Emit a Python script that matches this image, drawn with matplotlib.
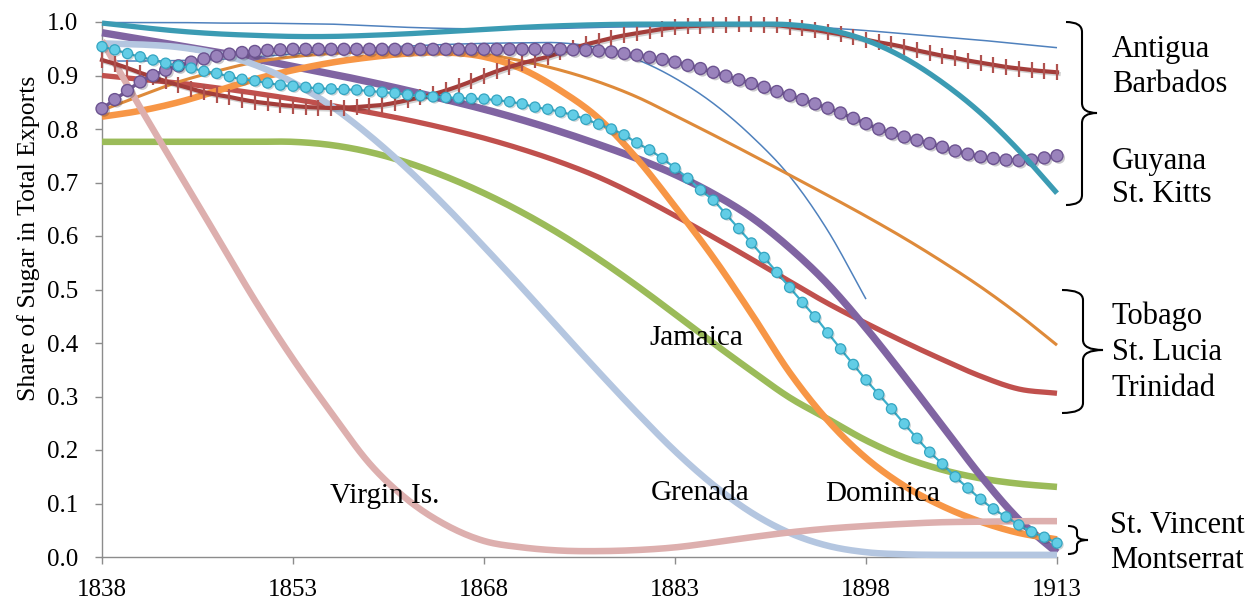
import matplotlib
matplotlib.use('Agg')
import matplotlib.pyplot as plt
import matplotlib.patheffects as pe
from matplotlib.path import Path
from matplotlib.patches import PathPatch
from matplotlib.transforms import Affine2D
import numpy as np

plt.rcParams['font.family'] = 'Liberation Serif'

W, H = 1251, 603

# yearly series (drawn with markers)
years = list(range(1838, 1914))
purple_dots = [0.838, 0.855, 0.872, 0.888, 0.900, 0.910, 0.918, 0.925, 0.931, 0.936,
               0.940, 0.943, 0.945, 0.947, 0.948, 0.949,
               0.949, 0.949, 0.949, 0.949, 0.949, 0.949, 0.949, 0.949, 0.949, 0.949,
               0.949, 0.949, 0.949, 0.949, 0.949, 0.949, 0.949, 0.949, 0.949, 0.949, 0.949,
               0.948, 0.947, 0.946, 0.944, 0.941, 0.938, 0.934, 0.930, 0.925, 0.919,
               0.913, 0.906, 0.899, 0.892, 0.885, 0.878, 0.870, 0.863, 0.855, 0.847,
               0.839, 0.830, 0.820, 0.810, 0.800, 0.792, 0.785, 0.779, 0.773, 0.766,
               0.759, 0.753, 0.748, 0.745, 0.742, 0.741, 0.742, 0.746, 0.750]
cyan_dots = [0.954, 0.948, 0.941, 0.935, 0.929, 0.923, 0.918, 0.914, 0.908, 0.904,
             0.898, 0.893, 0.890, 0.886, 0.882, 0.880, 0.878, 0.876, 0.875, 0.874,
             0.873, 0.871, 0.869, 0.867, 0.864, 0.862, 0.860, 0.859, 0.858, 0.857,
             0.856, 0.854, 0.851, 0.847, 0.841, 0.837, 0.832, 0.826, 0.818, 0.809,
             0.800, 0.789, 0.774, 0.761, 0.745, 0.727, 0.708, 0.686, 0.667, 0.641,
             0.614, 0.587, 0.560, 0.532, 0.504, 0.476, 0.449, 0.419, 0.389, 0.360,
             0.331, 0.304, 0.277, 0.249, 0.222, 0.196, 0.174, 0.150, 0.129, 0.108,
             0.090, 0.075, 0.060, 0.047, 0.037, 0.026]
red_ticks = [0.929, 0.922, 0.914, 0.905, 0.897, 0.889, 0.882, 0.875, 0.869, 0.864,
             0.860, 0.855, 0.851, 0.848, 0.845, 0.843, 0.841, 0.840, 0.839, 0.840,
             0.841, 0.843, 0.845, 0.849, 0.854, 0.859, 0.865, 0.872, 0.880, 0.889,
             0.899, 0.908, 0.916, 0.923, 0.929, 0.935, 0.943, 0.951, 0.958, 0.964,
             0.970, 0.975, 0.979, 0.983, 0.987, 0.990, 0.992, 0.993, 0.994, 0.995,
             0.996, 0.996, 0.995, 0.994, 0.991, 0.988, 0.985, 0.981, 0.977, 0.972,
             0.967, 0.962, 0.958, 0.953, 0.947, 0.942, 0.937, 0.933, 0.928, 0.924,
             0.920, 0.916, 0.913, 0.910, 0.908, 0.906]

# smoothed trend lines, read every three years
years3 = list(range(1838, 1914, 3))
blue_top = [0.999, 0.999, 0.999, 0.998, 0.998, 0.997, 0.996, 0.993, 0.990, 0.988,
            0.987, 0.987, 0.988, 0.990, 0.991, 0.992, 0.993, 0.993, 0.993, 0.989,
            0.984, 0.978, 0.972, 0.966, 0.959, 0.952]
blue_short = [0.927, 0.927, 0.928, 0.930, 0.935, 0.940, 0.946, 0.951, 0.955, 0.958,
              0.960, 0.961, 0.961, 0.952, 0.930, 0.895, 0.848, 0.787, 0.712, 0.610,
              0.482, None, None, None, None, None]
teal = [0.998, 0.990, 0.983, 0.978, 0.975, 0.973, 0.973, 0.975, 0.978, 0.982,
        0.986, 0.990, 0.993, 0.995, 0.996, 0.996, 0.996, 0.996, 0.995, 0.986,
        0.966, 0.933, 0.887, 0.830, 0.760, 0.680]
orange_thin = [0.835, 0.862, 0.888, 0.908, 0.925, 0.935, 0.941, 0.945, 0.947, 0.946,
               0.940, 0.927, 0.910, 0.888, 0.860, 0.825, 0.789, 0.752, 0.714, 0.676,
               0.637, 0.596, 0.552, 0.505, 0.453, 0.396]
orange = [0.823, 0.834, 0.850, 0.871, 0.893, 0.910, 0.924, 0.934, 0.941, 0.943,
          0.935, 0.912, 0.872, 0.820, 0.745, 0.655, 0.560, 0.455, 0.345, 0.255,
          0.185, 0.133, 0.095, 0.066, 0.045, 0.033]
red = [0.900, 0.893, 0.886, 0.877, 0.867, 0.856, 0.844, 0.831, 0.817, 0.801,
       0.783, 0.762, 0.738, 0.710, 0.676, 0.638, 0.598, 0.557, 0.515, 0.474,
       0.437, 0.402, 0.369, 0.338, 0.314, 0.306]
purple = [0.980, 0.968, 0.956, 0.944, 0.931, 0.917, 0.903, 0.888, 0.872, 0.855,
          0.837, 0.817, 0.795, 0.771, 0.745, 0.715, 0.679, 0.635, 0.578, 0.510,
          0.428, 0.338, 0.245, 0.152, 0.070, 0.008]
green = [0.776, 0.776, 0.776, 0.776, 0.776, 0.776, 0.770, 0.757, 0.737, 0.711,
         0.680, 0.644, 0.603, 0.557, 0.507, 0.454, 0.400, 0.348, 0.298, 0.258,
         0.218, 0.186, 0.163, 0.147, 0.137, 0.131]
light_blue = [0.960, 0.958, 0.953, 0.941, 0.920, 0.887, 0.843, 0.788, 0.725, 0.655,
              0.580, 0.503, 0.424, 0.346, 0.270, 0.198, 0.135, 0.083, 0.045, 0.021,
              0.009, 0.005, 0.004, 0.004, 0.004, 0.004]
pink = [0.965, 0.840, 0.720, 0.600, 0.480, 0.370, 0.270, 0.175, 0.107, 0.060,
        0.030, 0.018, 0.012, 0.011, 0.013, 0.018, 0.027, 0.037, 0.046, 0.053,
        0.058, 0.062, 0.065, 0.066, 0.067, 0.067]

xticks = [1838, 1853, 1868, 1883, 1898, 1913]
yticks = [0.0, 0.1, 0.2, 0.3, 0.4, 0.5, 0.6, 0.7, 0.8, 0.9, 1.0]

assert len(purple_dots) == len(years) == len(cyan_dots) == len(red_ticks)


def smooth(x, y, n=16):
    # Excel style smoothed line (Catmull-Rom through the points)
    pts = [(a, b) for a, b in zip(x, y) if b is not None]
    x = np.array([p[0] for p in pts], float)
    y = np.array([p[1] for p in pts], float)
    px = np.concatenate(([2 * x[0] - x[1]], x, [2 * x[-1] - x[-2]]))
    py = np.concatenate(([2 * y[0] - y[1]], y, [2 * y[-1] - y[-2]]))
    t = np.linspace(0, 1, n, endpoint=False)
    xs, ys = [], []
    for i in range(1, len(px) - 2):
        for p, out in ((px, xs), (py, ys)):
            p0, p1, p2, p3 = p[i - 1], p[i], p[i + 1], p[i + 2]
            out.append(0.5 * (2 * p1 + (-p0 + p2) * t + (2 * p0 - 5 * p1 + 4 * p2 - p3) * t ** 2
                              + (-p0 + 3 * p1 - 3 * p2 + p3) * t ** 3))
    xs.append([x[-1]])
    ys.append([y[-1]])
    return np.concatenate(xs), np.concatenate(ys)


fig = plt.figure(figsize=(W / 100, H / 100), dpi=100)
ax = fig.add_axes([102 / W, 1 - 557 / H, 955 / W, 535 / H])

shadow = [pe.SimpleLineShadow(offset=(1.2, -1.2), alpha=0.18), pe.Normal()]

# plain smoothed lines
lines = [
    (blue_top, '#4F81BD', 1.1, 2),
    (blue_short, '#4F81BD', 1.1, 2),
    (green, '#9BBB59', 4.7, 3),
    (red, '#C0504D', 3.8, 4),
    (purple, '#8064A2', 5.3, 5),
    (orange_thin, '#DE8A3A', 2.2, 6),
    (orange, '#F79646', 4.7, 7),
    (light_blue, '#B4C6E0', 4.7, 8),
    (pink, '#DDAFAE', 4.7, 9),
    (teal, '#3B9BB3', 3.8, 12.5),
]
for vals, color, lw, z in lines:
    xs, ys = smooth(years3, vals)
    ax.plot(xs, ys, color=color, lw=lw, zorder=z, clip_on=False,
            solid_capstyle='butt')

# red line with tick markers
xs, ys = smooth(years, red_ticks, n=6)
ax.plot(xs, ys, color='#A33D3A', lw=3.0, zorder=11, clip_on=False, path_effects=shadow)
ax.plot(years, red_ticks, ls='none', marker='|', ms=12, mew=1.6, color='#B0524F',
        zorder=11, clip_on=False)

# purple line with circles
xs, ys = smooth(years, purple_dots, n=6)
ax.plot(xs, ys, color='#6F5690', lw=2.5, zorder=12, clip_on=False)
ax.plot(years, purple_dots, ls='none', marker='o', ms=8.6, mfc='#9A83BC', mec='#6C5390',
        mew=1.0, zorder=12, clip_on=False,
        path_effects=[pe.SimplePatchShadow(offset=(1.5, -1.5), alpha=0.25), pe.Normal()])

# cyan line with circles
xs, ys = smooth(years, cyan_dots, n=6)
ax.plot(xs, ys, color='#3BAFCB', lw=1.6, zorder=13, clip_on=False)
ax.plot(years, cyan_dots, ls='none', marker='o', ms=7.3, mfc='#62CDE6', mec='#35A5C1',
        mew=0.9, zorder=13, clip_on=False,
        path_effects=[pe.SimplePatchShadow(offset=(1.2, -1.2), alpha=0.22), pe.Normal()])

ax.set_xlim(1838, 1913)
ax.set_ylim(0, 1)
ax.set_xticks(xticks)
ax.set_xticklabels([str(v) for v in xticks])
ax.set_yticks(yticks)
ax.set_yticklabels(['%.1f' % v for v in yticks])
for side in ['top', 'right']:
    ax.spines[side].set_visible(False)
for side in ['left', 'bottom']:
    ax.spines[side].set_color('#8C8C8C')
    ax.spines[side].set_linewidth(1.0)
ax.tick_params(axis='both', direction='out', length=5, width=1.0, color='#8C8C8C',
               labelsize=18)
ax.tick_params(axis='y', pad=12)
ax.tick_params(axis='x', pad=11)

fig.text(29 / W, 1 - 238 / H, 'Share of Sugar in Total Exports', rotation=90,
         ha='center', va='center', fontsize=18.5)

# labels inside the plot
ax.text(1884.7, 0.41, 'Jamaica', ha='center', va='center', fontsize=21, zorder=20)
ax.text(1860.2, 0.114, 'Virgin Is.', ha='center', va='center', fontsize=21, zorder=20)
ax.text(1885.0, 0.12, 'Grenada', ha='center', va='center', fontsize=21, zorder=20)
ax.text(1899.3, 0.118, 'Dominica', ha='center', va='center', fontsize=21, zorder=20)

# labels to the right, positioned in pixels
px_tf = Affine2D().scale(1 / W, -1 / H).translate(0, 1) + fig.transFigure
right_labels = [
    ('Antigua', 1112, 57), ('Barbados', 1112, 92),
    ('Guyana', 1112, 169), ('St. Kitts', 1112, 202),
    ('Tobago', 1112, 324), ('St. Lucia', 1112, 360), ('Trinidad', 1112, 396),
    ('St. Vincent', 1110, 533), ('Montserrat', 1110, 568),
]
for txt, px, py in right_labels:
    fig.text(px, py, txt, transform=px_tf, ha='left', va='baseline', fontsize=22)


def brace(x, top, bottom, mid, hook, tip, r):
    verts = [(hook, top), (x, top), (x, top + r),
             (x, mid - r), (x, mid), (tip, mid),
             (x, mid), (x, mid + r),
             (x, bottom - r), (x, bottom), (hook, bottom)]
    codes = [Path.MOVETO, Path.CURVE3, Path.CURVE3,
             Path.LINETO, Path.CURVE3, Path.CURVE3,
             Path.CURVE3, Path.CURVE3,
             Path.LINETO, Path.CURVE3, Path.CURVE3]
    fig.add_artist(PathPatch(Path(verts, codes), transform=px_tf, fill=False,
                             lw=1.5, edgecolor='black'))


brace(1082, 22, 205, 113, 1066, 1097, 10)
brace(1083, 290, 413, 350, 1062, 1103, 10)
brace(1077, 526, 554, 540, 1068, 1088, 5)

fig.savefig('out.png', dpi=100)
